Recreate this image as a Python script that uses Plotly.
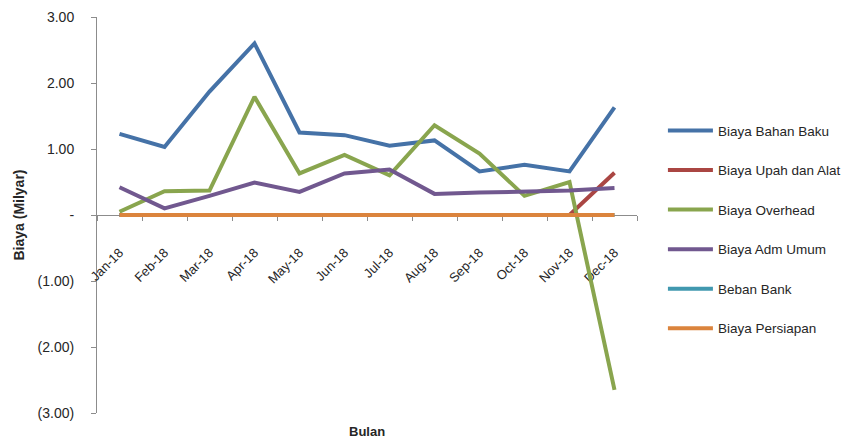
import plotly.graph_objects as go

months = ["Jan-18", "Feb-18", "Mar-18", "Apr-18", "May-18", "Jun-18",
          "Jul-18", "Aug-18", "Sep-18", "Oct-18", "Nov-18", "Dec-18"]

bahan_baku = [1.23, 1.03, 1.87, 2.60, 1.25, 1.21, 1.05, 1.13, 0.66, 0.76, 0.66, 1.63]
upah_alat = [0, 0, 0, 0, 0, 0, 0, 0, 0, 0, 0, 0.64]
overhead = [0.05, 0.36, 0.37, 1.79, 0.63, 0.91, 0.60, 1.36, 0.93, 0.29, 0.50, -2.65]
adm_umum = [0.42, 0.10, 0.29, 0.49, 0.35, 0.63, 0.69, 0.32, 0.34, 0.35, 0.37, 0.41]
beban_bank = [0] * 12
persiapan = [0] * 12

series = [
    ("Biaya Bahan Baku", bahan_baku, "#4572A7"),
    ("Biaya Upah dan Alat", upah_alat, "#AA4643"),
    ("Biaya Overhead", overhead, "#89A54E"),
    ("Biaya Adm Umum", adm_umum, "#71588F"),
    ("Beban Bank", beban_bank, "#4198AF"),
    ("Biaya Persiapan", persiapan, "#DB843D"),
]

y_tickvals = [3, 2, 1, 0, -1, -2, -3]
y_ticktext = ["3.00", "2.00", "1.00", "-", "(1.00)", "(2.00)", "(3.00)"]

fig = go.Figure()
for i, (name, vals, color) in enumerate(series):
    fig.add_trace(go.Scatter(
        x=months, y=vals, name=name, mode="lines",
        line=dict(color=color, width=4),
        legendgroup=f"g{i}",
    ))

font_family = "Liberation Sans"
txt = "#262626"
fig.update_layout(
    width=851, height=441,
    margin=dict(l=97, r=214, t=17, b=28, autoexpand=False),
    paper_bgcolor="white", plot_bgcolor="white",
    font=dict(family=font_family, size=12, color=txt),
    showlegend=True,
    legend=dict(
        x=1.048, xanchor="left", y=0.752, yanchor="top",
        tracegroupgap=19, itemwidth=45,
        font=dict(family=font_family, size=13.5, color=txt),
        bgcolor="rgba(0,0,0,0)",
    ),
    xaxis=dict(
        type="category",
        range=[-0.5, 11.5],
        anchor="free", position=0.5,
        showline=True, linecolor="#8c8c8c", linewidth=1,
        ticks="outside", tickson="boundaries", ticklen=5, tickcolor="#8c8c8c",
        tickangle=-45, ticklabelstandoff=24,
        tickfont=dict(family=font_family, size=13, color=txt),
        showgrid=False, zeroline=False, layer="below traces",
    ),
    yaxis=dict(
        range=[-3, 3],
        tickvals=y_tickvals, ticktext=y_ticktext,
        showline=True, linecolor="#8c8c8c", linewidth=1,
        ticks="outside", ticklen=5, tickcolor="#8c8c8c",
        ticklabelstandoff=14,
        tickfont=dict(family=font_family, size=14, color=txt),
        showgrid=False, zeroline=False, layer="below traces",
        title=dict(text="<b>Biaya (Milyar)</b>",
                   font=dict(family=font_family, size=14, color=txt), standoff=9),
    ),
    annotations=[dict(
        text="<b>Bulan</b>", x=0.5, xref="paper", y=-0.0707, yref="paper",
        yanchor="bottom", showarrow=False,
        font=dict(family=font_family, size=13, color=txt),
    )],
)

fig.write_html("out.html")
